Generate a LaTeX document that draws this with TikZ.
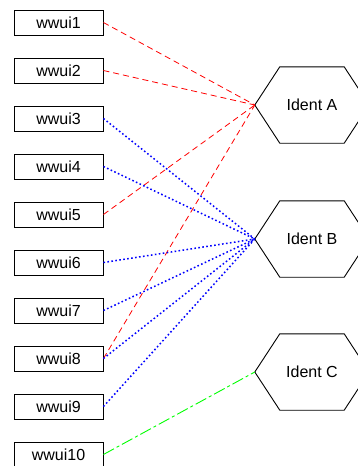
\documentclass[tikz,border=0pt]{standalone}
\usepackage{fontspec}
\setmainfont{Liberation Sans}
\usetikzlibrary{positioning}
\tikzset{
  doboz/.style={draw,line width=0.9pt,minimum width=89pt,minimum height=25pt,inner sep=0pt,
                font=\fontsize{16}{18}\selectfont},
  hatszog/.style={minimum width=114pt,minimum height=76pt,inner sep=0pt,
                  font=\fontsize{16}{18}\selectfont},
  hatel/.style={line width=0.9pt},
  piros/.style={red,line width=0.8pt,dash pattern=on 6pt off 4pt},
  kek/.style={blue,line width=1.5pt,dash pattern=on 1.6pt off 2.4pt},
  zold/.style={green,line width=0.9pt,dash pattern=on 12pt off 3pt on 3pt off 3pt},
}

\begin{document}
\begin{tikzpicture}[x=1pt,y=-1pt]
  \useasboundingbox (0,0) rectangle (357,466);
  % bal oldali dobozok
  \node[doboz] (w1) at (58.5,22.5) {wwui1};
  \foreach \i [evaluate=\i as \j using int(\i-1)] in {2,...,10}
    \node[doboz,below=22.1pt of w\j] (w\i) {wwui\i};
  % hatszogek
  \node[hatszog] (A) at (312,105) {Ident A};
  \node[hatszog,below=57.6pt of A] (B) {Ident B};
  \node[hatszog,below=56.6pt of B] (C) {Ident C};
  \foreach \h in {A,B,C}
    \draw[hatel] (\h.west) -- ([xshift=25pt]\h.north west) -- ([xshift=-25pt]\h.north east)
      -- (\h.east) -- ([xshift=-25pt]\h.south east) -- ([xshift=25pt]\h.south west) -- cycle;
  % kapcsolatok
  \foreach \i in {1,2,5,8}
    \draw[piros] (w\i.east) -- (A.west);
  \foreach \i in {3,4,6,7,8,9}
    \draw[kek] (w\i.east) -- (B.west);
  \draw[zold] (w10.east) -- (C.west);
\end{tikzpicture}
\end{document}
